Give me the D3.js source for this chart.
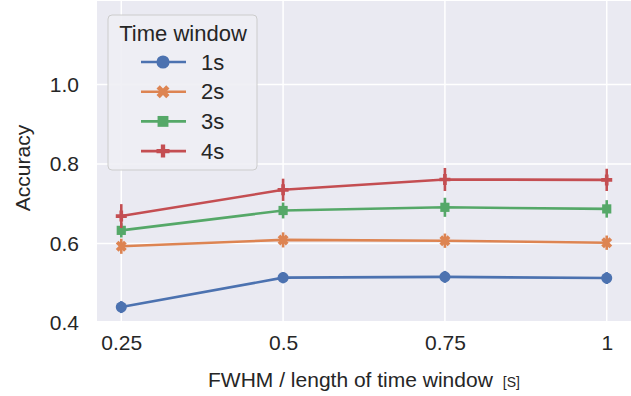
<!DOCTYPE html>
<html>
<head>
<meta charset="utf-8">
<script src="https://cdn.jsdelivr.net/npm/d3@7"></script>
<style>
  body { margin: 0; background: #fff; }
  svg { display: block; font-family: "Liberation Sans", Arial, sans-serif; }
</style>
</head>
<body>
<script>
// x values (FWHM / length of time window)
var fwhm = [0.25, 0.5, 0.75, 1];
var xTickLabels = ["0.25", "0.5", "0.75", "1"];
var yTicks = [0.4, 0.6, 0.8, 1.0];

var windows = ["1s", "2s", "3s", "4s"];
var acc1s = [0.440, 0.514, 0.516, 0.513];
var acc2s = [0.593, 0.609, 0.607, 0.602];
var acc3s = [0.633, 0.683, 0.691, 0.687];
var acc4s = [0.669, 0.735, 0.761, 0.760];
// half-width of the error bars
var err1s = [0.015, 0.014, 0.015, 0.015];
var err2s = [0.019, 0.019, 0.018, 0.018];
var err3s = [0.018, 0.020, 0.024, 0.022];
var err4s = [0.030, 0.028, 0.029, 0.028];

var colors = ["#4c72b0", "#dd8452", "#55a868", "#c44e52"];

var series = [
  {name: windows[0], acc: acc1s, err: err1s, color: colors[0], marker: "circle"},
  {name: windows[1], acc: acc2s, err: err2s, color: colors[1], marker: "x"},
  {name: windows[2], acc: acc3s, err: err3s, color: colors[2], marker: "square"},
  {name: windows[3], acc: acc4s, err: err4s, color: colors[3], marker: "plus"}
];

var w = 631, h = 396;
var pLeft = 97, pRight = 631, pTop = 1, pBottom = 321;

var svg = d3.select("body").append("svg")
    .attr("width", w)
    .attr("height", h);

var x = d3.scaleLinear().domain([0.2125, 1.0375]).range([pLeft, pRight]);
var y = d3.scaleLinear().domain([0.405, 1.21]).range([pBottom, pTop]);

// background
svg.append("rect")
    .attr("x", pLeft).attr("y", pTop)
    .attr("width", pRight - pLeft).attr("height", pBottom - pTop)
    .attr("fill", "#eaeaf2");

// grid
svg.append("g").selectAll("line")
    .data(fwhm)
    .enter().append("line")
    .attr("x1", function(d) { return x(d); })
    .attr("x2", function(d) { return x(d); })
    .attr("y1", pTop).attr("y2", pBottom)
    .attr("stroke", "#fff").attr("stroke-width", 1.5);

svg.append("g").selectAll("line")
    .data(yTicks)
    .enter().append("line")
    .attr("x1", pLeft).attr("x2", pRight)
    .attr("y1", function(d) { return y(d); })
    .attr("y2", function(d) { return y(d); })
    .attr("stroke", "#fff").attr("stroke-width", 1.5);

// axes (tick labels only)
var xAxis = svg.append("g")
    .attr("transform", "translate(0," + pBottom + ")")
    .call(d3.axisBottom(x).tickValues(fwhm)
        .tickFormat(function(d, i) { return xTickLabels[i]; })
        .tickSize(0).tickPadding(14));
xAxis.select(".domain").remove();
xAxis.selectAll("text").attr("font-size", "21px").attr("fill", "#262626")
    .attr("font-family", "Liberation Sans, Arial, sans-serif");

var yAxis = svg.append("g")
    .attr("transform", "translate(" + pLeft + ",0)")
    .call(d3.axisLeft(y).tickValues(yTicks).tickFormat(d3.format(".1f"))
        .tickSize(0).tickPadding(18));
yAxis.select(".domain").remove();
yAxis.selectAll("text").attr("font-size", "21px").attr("fill", "#262626")
    .attr("font-family", "Liberation Sans, Arial, sans-serif");

// axis titles
var xt = svg.append("text")
    .attr("x", 364).attr("y", 387)
    .attr("text-anchor", "middle")
    .attr("fill", "#262626")
    .attr("font-size", "21px");
xt.append("tspan").text("FWHM / length of time window");
xt.append("tspan").attr("font-size", "14px").attr("dx", 10).text("[S]");

svg.append("text")
    .attr("transform", "translate(30,168) rotate(-90)")
    .attr("text-anchor", "middle")
    .attr("fill", "#262626")
    .attr("font-size", "21px")
    .text("Accuracy");

function markerPath(type, s) {
  if (type === "circle") return d3.symbol(d3.symbolCircle, s * s * 0.8)();
  if (type === "square") return d3.symbol(d3.symbolSquare, s * s * 0.7)();
  if (type === "plus") {
    var a = s / 2, b = s / 6;
    return "M" + -b + "," + -a + "H" + b + "V" + -b + "H" + a + "V" + b + "H" + b +
      "V" + a + "H" + -b + "V" + b + "H" + -a + "V" + -b + "H" + -b + "Z";
  }
  // filled X
  return d3.symbol(d3.symbolCross, s * s * 0.62)();
}

var line = d3.line()
    .x(function(d, i) { return x(fwhm[i]); })
    .y(function(d) { return y(d); });

series.forEach(function(s) {
  var g = svg.append("g");
  g.append("path")
      .datum(s.acc)
      .attr("d", line)
      .attr("fill", "none")
      .attr("stroke", s.color)
      .attr("stroke-width", 2.6);

  g.selectAll(".err")
      .data(s.acc)
      .enter().append("line")
      .attr("x1", function(d, i) { return x(fwhm[i]); })
      .attr("x2", function(d, i) { return x(fwhm[i]); })
      .attr("y1", function(d, i) { return y(d - s.err[i]); })
      .attr("y2", function(d, i) { return y(d + s.err[i]); })
      .attr("stroke", s.color)
      .attr("stroke-width", 2.6);

  g.selectAll(".mk")
      .data(s.acc)
      .enter().append("path")
      .attr("d", markerPath(s.marker, 11))
      .attr("transform", function(d, i) {
        return "translate(" + x(fwhm[i]) + "," + y(d) + ")" + (s.marker === "x" ? " rotate(45)" : "");
      })
      .attr("fill", s.color);
});

// legend
var lg = svg.append("g");
lg.append("rect")
    .attr("x", 108).attr("y", 15)
    .attr("width", 149).attr("height", 155)
    .attr("rx", 4)
    .attr("fill", "#eeeef4")
    .attr("fill-opacity", 0.9)
    .attr("stroke", "#cccccc")
    .attr("stroke-width", 1);

lg.append("text")
    .attr("x", 183).attr("y", 41)
    .attr("text-anchor", "middle")
    .attr("fill", "#262626")
    .attr("font-size", "22px")
    .text("Time window");

var items = lg.selectAll(".item")
    .data(series)
    .enter().append("g")
    .attr("transform", function(d, i) { return "translate(0," + (62 + i * 29.7) + ")"; });

items.append("line")
    .attr("x1", 141).attr("x2", 186)
    .attr("y1", 0).attr("y2", 0)
    .attr("stroke", function(d) { return d.color; })
    .attr("stroke-width", 2.6);

items.append("path")
    .attr("d", function(d) { return markerPath(d.marker, 13); })
    .attr("transform", function(d) { return "translate(163,0)" + (d.marker === "x" ? " rotate(45)" : ""); })
    .attr("fill", function(d) { return d.color; });

items.append("text")
    .attr("x", 201).attr("y", 7.5)
    .attr("fill", "#262626")
    .attr("font-size", "22px")
    .text(function(d) { return d.name; });
</script>
</body>
</html>
